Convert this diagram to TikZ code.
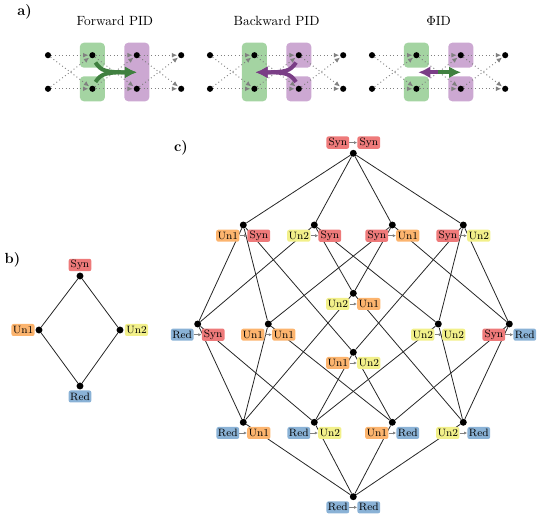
\documentclass[tikz,border=0pt]{standalone}
\usetikzlibrary{arrows.meta}
\definecolor{csyn}{RGB}{238,122,122}
\definecolor{cun1}{RGB}{252,180,110}
\definecolor{cun2}{RGB}{242,240,138}
\definecolor{cred}{RGB}{138,178,214}
\definecolor{boxg}{RGB}{164,212,162}
\definecolor{boxp}{RGB}{204,168,210}
\definecolor{arrg}{RGB}{64,128,64}
\definecolor{arrp}{RGB}{122,62,134}
\pgfdeclarelayer{bg}
\pgfsetlayers{bg,main}
\tikzset{
  pdot/.style={circle,fill=black,inner sep=0pt,minimum size=4.6pt},
  ldot/.style={circle,fill=black,inner sep=0pt,minimum size=5.2pt},
  flow/.style={draw=gray,dotted,line width=0.7pt,-{Latex[length=4pt,width=3.6pt]},shorten >=0.5pt},
  lbl/.style={rounded corners=1.5pt,minimum width=17pt,minimum height=9pt,inner sep=1pt,font=\footnotesize},
  bsyn/.style={lbl,fill=csyn}, bun1/.style={lbl,fill=cun1},
  bun2/.style={lbl,fill=cun2}, bred/.style={lbl,fill=cred},
  hasse/.style={line width=0.6pt,black!85},
  larrow/.style={gray,line width=0.5pt,-{Latex[length=2.4pt,width=2.4pt]}},
  bigg/.style={arrg,line width=3pt,-{Latex[length=9pt,width=9pt]}},
  bigp/.style={arrp,line width=3pt,-{Latex[length=9pt,width=9pt]}},
  gbox/.style={fill=boxg,rounded corners=3pt},
  pbox/.style={fill=boxp,rounded corners=3pt},
  ttl/.style={font=\normalsize},
  panel/.style={font=\bfseries\fontsize{11}{13}\selectfont}
}
\newcommand\pairlab[6]{%
  \node[#3] (#1L) at ([shift={(-15.5,#2)}]#1) {#4};
  \node[#5] (#1R) at ([shift={(15.5,#2)}]#1) {#6};
  \draw[larrow] (#1L) -- (#1R);
}
\begin{document}
\begin{tikzpicture}[x=0.75pt,y=-0.75pt]
\useasboundingbox (0,0) rectangle (547,530);

% ---------------- panel a ----------------
\node[panel] (pa) at (24.5,12) {a)};
\node[ttl] (tF) at (114.8,21) {Forward PID};
\node[ttl] (tB) at (276.6,21) {Backward PID};
\node[ttl] (tP) at (438.6,21) {$\Phi$ID};

\foreach \g/\ox in {F/48,B/210,P/372}{
  \foreach \i in {0,...,3}{
    \node[pdot] (a\g\i-t) at (\ox+\i*44.4,55.2) {};
    \node[pdot] (a\g\i-b) at (\ox+\i*44.4,88.8) {};
  }
}
\begin{pgfonlayer}{bg}
  % Forward
  \fill[gbox] ([shift={(-12.5,-12.5)}]aF1-t) rectangle ([shift={(12.5,12.5)}]aF1-t);
  \fill[gbox] ([shift={(-12.5,-12.5)}]aF1-b) rectangle ([shift={(12.5,12.5)}]aF1-b);
  \fill[pbox] ([shift={(-12.5,-12.5)}]aF2-t) rectangle ([shift={(12.5,12.5)}]aF2-b);
  % Backward
  \fill[gbox] ([shift={(-12.5,-12.5)}]aB1-t) rectangle ([shift={(12.5,12.5)}]aB1-b);
  \fill[pbox] ([shift={(-12.5,-12.5)}]aB2-t) rectangle ([shift={(12.5,12.5)}]aB2-t);
  \fill[pbox] ([shift={(-12.5,-12.5)}]aB2-b) rectangle ([shift={(12.5,12.5)}]aB2-b);
  % PhiID
  \fill[gbox] ([shift={(-12.5,-12.5)}]aP1-t) rectangle ([shift={(12.5,12.5)}]aP1-t);
  \fill[gbox] ([shift={(-12.5,-12.5)}]aP1-b) rectangle ([shift={(12.5,12.5)}]aP1-b);
  \fill[pbox] ([shift={(-12.5,-12.5)}]aP2-t) rectangle ([shift={(12.5,12.5)}]aP2-t);
  \fill[pbox] ([shift={(-12.5,-12.5)}]aP2-b) rectangle ([shift={(12.5,12.5)}]aP2-b);
\end{pgfonlayer}
\foreach \g in {F,B,P}{
  \foreach \i/\j in {0/1,1/2,2/3}{
    \draw[flow] (a\g\i-t) -- (a\g\j-t);
    \draw[flow] (a\g\i-b) -- (a\g\j-b);
    \draw[flow] (a\g\i-t) -- (a\g\j-b);
    \draw[flow] (a\g\i-b) -- (a\g\j-t);
  }
}
% big arrows
\coordinate (fTip) at (136.8,72.3);
\draw[bigg] (95.5,62.5) .. controls (101,71) and (106,72.3) .. (fTip);
\draw[bigg] (95.5,82) .. controls (101,73.6) and (106,72.3) .. (fTip);
\coordinate (bTip) at (255.5,72.3);
\draw[bigp] (296,62.5) .. controls (290.5,71) and (285.5,72.3) .. (bTip);
\draw[bigp] (296,82) .. controls (290.5,73.6) and (285.5,72.3) .. (bTip);
\coordinate (pMid) at (439.3,72.3);
\coordinate (pL) at (418.3,72.3);
\coordinate (pR) at (461,72.3);
\draw[bigp] ([xshift=1]pMid) -- (pL);
\draw[bigg] ([xshift=-1]pMid) -- (pR);

% ---------------- panel b ----------------
\node[panel] (pb) at (12.5,260) {b)};
\node[ldot] (bS) at (80,276) {};
\node[ldot] (bU1) at (39,330) {};
\node[ldot] (bU2) at (120,330) {};
\node[ldot] (bR) at (80,386) {};
\node[bsyn] (bSl) at ([shift={(0,-11)}]bS) {Syn};
\node[bun1] (bU1l) at ([shift={(-16,0)}]bU1) {Un1};
\node[bun2] (bU2l) at ([shift={(16.5,0)}]bU2) {Un2};
\node[bred] (bRl) at ([shift={(0,10.5)}]bR) {Red};
\begin{pgfonlayer}{bg}
  \draw[hasse] (bS) -- (bU1) -- (bR) -- (bU2) -- (bS);
\end{pgfonlayer}

% ---------------- panel c ----------------
\node[panel] (pc) at (181,148) {c)};
\node[ldot] (ss)   at (353.3,153.3) {};
\node[ldot] (u1s)  at (243.3,225) {};
\node[ldot] (u2s)  at (314.3,225) {};
\node[ldot] (su1)  at (392.3,225) {};
\node[ldot] (su2)  at (463.3,225) {};
\node[ldot] (u2u1) at (353.3,293.3) {};
\node[ldot] (rs)   at (197.7,324) {};
\node[ldot] (u1u1) at (268.3,324) {};
\node[ldot] (u2u2) at (438.3,324) {};
\node[ldot] (sr)   at (509.3,324) {};
\node[ldot] (u1u2) at (353.3,352.3) {};
\node[ldot] (ru1)  at (243.3,422.3) {};
\node[ldot] (ru2)  at (314.3,422.3) {};
\node[ldot] (u1r)  at (392.3,422.3) {};
\node[ldot] (u2r)  at (463.3,422.3) {};
\node[ldot] (rr)   at (353.3,496.7) {};

\begin{pgfonlayer}{bg}
  \draw[hasse] (ss) -- (u1s);  \draw[hasse] (ss) -- (u2s);
  \draw[hasse] (ss) -- (su1);  \draw[hasse] (ss) -- (su2);
  \draw[hasse] (u1s) -- (rs);  \draw[hasse] (u1s) -- (u1u1); \draw[hasse] (u1s) -- (u1u2);
  \draw[hasse] (u2s) -- (rs);  \draw[hasse] (u2s) -- (u2u1); \draw[hasse] (u2s) -- (u2u2);
  \draw[hasse] (su1) -- (u1u1); \draw[hasse] (su1) -- (u2u1); \draw[hasse] (su1) -- (sr);
  \draw[hasse] (su2) -- (u1u2); \draw[hasse] (su2) -- (u2u2); \draw[hasse] (su2) -- (sr);
  \draw[hasse] (rs) -- (ru1);   \draw[hasse] (rs) -- (ru2);
  \draw[hasse] (sr) -- (u1r);   \draw[hasse] (sr) -- (u2r);
  \draw[hasse] (u1u1) -- (ru1); \draw[hasse] (u1u1) -- (u1r);
  \draw[hasse] (u2u2) -- (ru2); \draw[hasse] (u2u2) -- (u2r);
  \draw[hasse] (u1u2) -- (ru2); \draw[hasse] (u1u2) -- (u1r);
  \draw[hasse] (u2u1) -- (ru1); \draw[hasse] (u2u1) -- (u2r);
  \draw[hasse] (ru1) -- (rr); \draw[hasse] (ru2) -- (rr);
  \draw[hasse] (u1r) -- (rr); \draw[hasse] (u2r) -- (rr);
\end{pgfonlayer}

\pairlab{ss}{-10.7}{bsyn}{Syn}{bsyn}{Syn}
\pairlab{u1s}{10.7}{bun1}{Un1}{bsyn}{Syn}
\pairlab{u2s}{10.7}{bun2}{Un2}{bsyn}{Syn}
\pairlab{su1}{10.7}{bsyn}{Syn}{bun1}{Un1}
\pairlab{su2}{10.7}{bsyn}{Syn}{bun2}{Un2}
\pairlab{u2u1}{10.7}{bun2}{Un2}{bun1}{Un1}
\pairlab{rs}{10.7}{bred}{Red}{bsyn}{Syn}
\pairlab{u1u1}{10.7}{bun1}{Un1}{bun1}{Un1}
\pairlab{u2u2}{10.7}{bun2}{Un2}{bun2}{Un2}
\pairlab{sr}{10.7}{bsyn}{Syn}{bred}{Red}
\pairlab{u1u2}{10.7}{bun1}{Un1}{bun2}{Un2}
\pairlab{ru1}{10.7}{bred}{Red}{bun1}{Un1}
\pairlab{ru2}{10.7}{bred}{Red}{bun2}{Un2}
\pairlab{u1r}{10.7}{bun1}{Un1}{bred}{Red}
\pairlab{u2r}{10.7}{bun2}{Un2}{bred}{Red}
\pairlab{rr}{10.7}{bred}{Red}{bred}{Red}
\end{tikzpicture}
\end{document}
